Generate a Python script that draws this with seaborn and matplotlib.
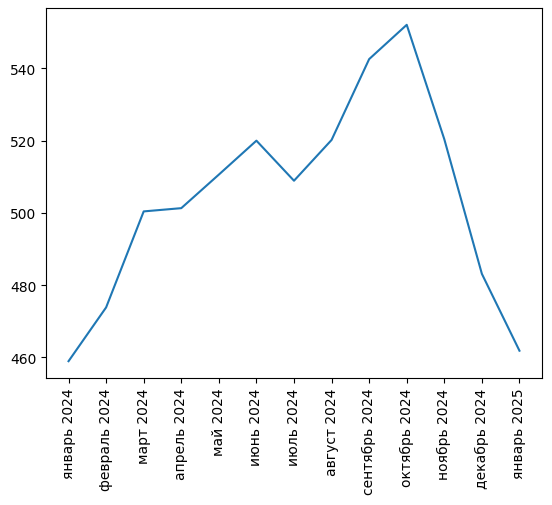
import pandas as pd
import seaborn as sns
import matplotlib
matplotlib.use("Agg")
import matplotlib.pyplot as plt

months = ['январь 2024', 'февраль 2024', 'март 2024', 'апрель 2024', 'май 2024',
          'июнь 2024', 'июль 2024', 'август 2024', 'сентябрь 2024', 'октябрь 2024',
          'ноябрь 2024', 'декабрь 2024', 'январь 2025']
values = [458.9, 473.8, 500.4, 501.3, 510.6, 520.0, 508.9, 520.2, 542.6, 552.1,
          520.4, 483.1, 461.8]

df = pd.DataFrame({'month': months, 'value': values})

fig, ax = plt.subplots(figsize=(5.52, 5.06), dpi=100)
fig.subplots_adjust(left=46 / 552, right=542 / 552, top=1 - 9 / 506, bottom=1 - 379 / 506)

sns.lineplot(data=df, x='month', y='value', ax=ax, sort=False)
ax.set_xlabel('')
ax.set_ylabel('')
ax.set_yticks([460, 480, 500, 520, 540])
plt.setp(ax.get_xticklabels(), rotation=90)

plt.savefig('out.png', dpi=100)
